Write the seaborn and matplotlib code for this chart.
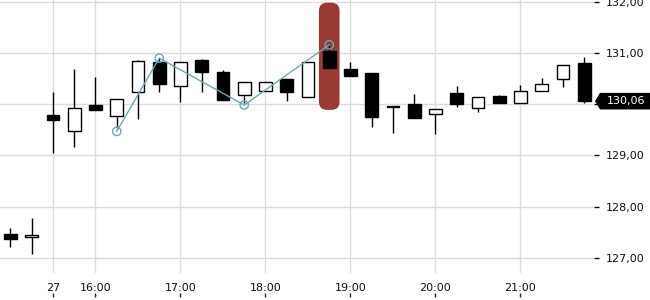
import numpy as np
import pandas as pd
import matplotlib
matplotlib.use("Agg")
import matplotlib.pyplot as plt
import seaborn as sns
from matplotlib.patches import FancyBboxPatch, Polygon
from matplotlib.ticker import FuncFormatter, FixedLocator
from matplotlib.transforms import IdentityTransform

# ---------------- data ----------------
opens  = [127.46, 127.40, 129.79, 129.48, 129.99, 129.78, 130.23, 130.82, 130.36, 130.86,
          130.62, 130.18, 130.26, 130.49, 130.15, 131.04, 130.69, 130.61, 129.97, 130.00,
          129.80, 130.22, 129.93, 130.16, 130.03, 130.26, 130.49, 130.81]
highs  = [127.59, 127.78, 130.23, 130.69, 130.53, 130.10, 130.86, 130.90, 130.82, 130.88,
          130.67, 130.43, 130.43, 130.49, 130.82, 131.16, 130.82, 130.61, 129.97, 130.20,
          129.91, 130.36, 130.14, 130.18, 130.38, 130.51, 130.77, 130.93]
lows   = [127.22, 127.08, 129.05, 129.17, 129.88, 129.53, 129.72, 130.24, 130.05, 130.23,
          130.09, 130.02, 130.26, 130.06, 130.15, 130.71, 130.56, 129.56, 129.44, 129.74,
          129.41, 129.95, 129.84, 130.03, 130.03, 130.26, 130.34, 130.02]
closes = [127.38, 127.45, 129.69, 129.92, 129.89, 130.10, 130.84, 130.40, 130.82, 130.63,
          130.09, 130.43, 130.43, 130.24, 130.82, 130.71, 130.56, 129.76, 129.94, 129.74,
          129.91, 130.01, 130.14, 130.03, 130.25, 130.40, 130.77, 130.06]

zigzag_idx = [5, 7, 11, 15]
zigzag_val = [129.47, 130.90, 129.985, 131.16]

highlight_idx = 15
highlight_lo, highlight_hi = 129.89, 131.98

xtick_pos = [2, 4, 8, 12, 16, 20, 24]
xtick_labels = ["27", "16:00", "17:00", "18:00", "19:00", "20:00", "21:00"]
ytick_vals = [127, 128, 129, 130, 131, 132]
last_price = closes[-1]

# ---------------- style ----------------
sns.set_style("white")
plt.rcParams['font.family'] = ['DejaVu Sans']
plt.rcParams['font.size'] = 8

W, H = 650, 300
fig = plt.figure(figsize=(W / 100, H / 100), dpi=100)
ax_l, ax_r, ax_t, ax_b = 0, 594, 0, 273
ax = fig.add_axes([ax_l / W, 1 - ax_b / H, (ax_r - ax_l) / W, (ax_b - ax_t) / H])
for s in ax.spines.values():
    s.set_visible(False)

ax.set_xlim(-0.494, 27.46)
ax.set_ylim(126.707, 132.034)


def yfmt(v, p):
    # the last-price marker covers the tick label next to it
    if abs(v - last_price) < 0.25:
        return ""
    return f"{v:.2f}".replace(".", ",")


grid_c = "#dcdcdc"
ax.xaxis.set_major_locator(FixedLocator(xtick_pos))
ax.set_xticklabels(xtick_labels)
ax.yaxis.set_major_locator(FixedLocator(ytick_vals))
ax.yaxis.set_major_formatter(FuncFormatter(yfmt))
ax.grid(True, color=grid_c, lw=1.0)
ax.set_axisbelow(True)
ax.yaxis.tick_right()
ax.tick_params(axis='y', length=3.5, width=1, pad=5, colors="#111111")
ax.tick_params(axis='x', length=0, pad=7.5, colors="#111111")

sec = ax.secondary_xaxis(-24 / 273)
sec.set_xticks(xtick_pos)
sec.tick_params(direction='in', length=3, width=1, labelbottom=False)
sec.spines['bottom'].set_visible(False)

# highlight band
bw = 0.97
rx = 0.38
ry = 0.16
band = FancyBboxPatch((highlight_idx - bw / 2, highlight_lo), bw, highlight_hi - highlight_lo,
                      boxstyle=f"round,pad=0,rounding_size={rx}",
                      mutation_aspect=ry / rx, fc="#993a33", ec="none", zorder=1.5)
ax.add_patch(band)

# candles
df = pd.DataFrame({"o": opens, "h": highs, "l": lows, "c": closes})
df["i"] = np.arange(len(df))
up = df["c"] >= df["o"]
ax.vlines(df["i"], df["l"], df["h"], color="black", lw=1.0, zorder=2)
bottoms = np.minimum(df["o"], df["c"])
heights = np.maximum(np.abs(df["c"] - df["o"]), 0.03)
ax.bar(df["i"], heights, bottom=bottoms, width=0.6,
       color=np.where(up, "white", "black"), edgecolor="black", linewidth=1.0, zorder=3)

# zigzag
zc = "#6aaab5"
sns.lineplot(x=zigzag_idx, y=zigzag_val, ax=ax, color=zc, lw=1.0, zorder=4)
sns.scatterplot(x=zigzag_idx, y=zigzag_val, ax=ax, s=36, marker="o",
                facecolor="none", edgecolor=zc, linewidth=1.0, zorder=5)

ax.set_xlabel("")
ax.set_ylabel("")

# last price label
fig.canvas.draw()
py = ax.transData.transform((0, last_price))[1]
hh = 8.3
x0 = 595
poly = Polygon([(x0, py), (x0 + 5, py + hh), (W, py + hh), (W, py - hh), (x0 + 5, py - hh)],
               closed=True, transform=IdentityTransform(), fc="black", ec="none", zorder=10)
fig.patches.append(poly)
fig.text(606.5 / W, py / H, f"{last_price:.2f}".replace(".", ","), color="white",
         ha="left", va="center", fontsize=8, zorder=11)

fig.savefig("out.png", dpi=100)
